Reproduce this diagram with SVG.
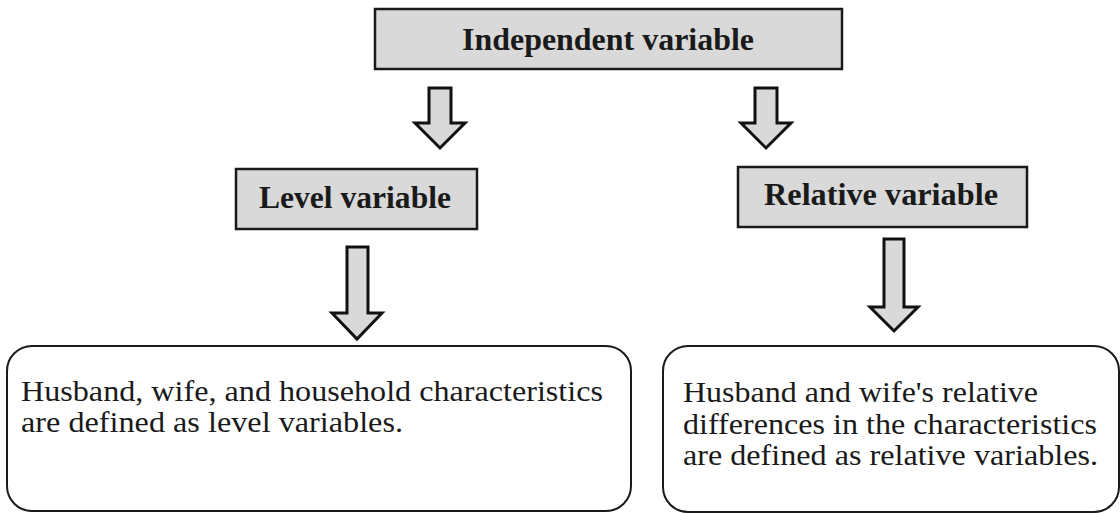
<svg xmlns="http://www.w3.org/2000/svg" width="1120" height="513" viewBox="0 0 1120 513">
  <style>
    .box { fill: #d9d9d9; stroke: #1a1a1a; stroke-width: 2.5; }
    .rbox { fill: #ffffff; stroke: #1a1a1a; stroke-width: 2; }
    .arrow { fill: #d9d9d9; stroke: #111111; stroke-width: 3; stroke-linejoin: miter; }
    .hd { font-family: "Liberation Serif", "Times New Roman", serif; font-weight: bold; font-size: 31px; fill: #1a1a1a; text-anchor: middle; }
    .bd { font-family: "Liberation Serif", "Times New Roman", serif; font-size: 29px; fill: #1a1a1a; }
  </style>
  <rect width="1120" height="513" fill="#ffffff"/>

  <g id="node-independent">
    <rect class="box" x="375" y="9" width="467" height="60"/>
    <text class="hd" x="608" y="50" textLength="292" lengthAdjust="spacingAndGlyphs">Independent variable</text>
  </g>

  <g id="node-level">
    <rect class="box" x="236" y="169" width="241" height="60"/>
    <text class="hd" x="355" y="208" textLength="192" lengthAdjust="spacingAndGlyphs">Level variable</text>
  </g>

  <g id="node-relative">
    <rect class="box" x="738" y="167" width="289" height="60"/>
    <text class="hd" x="881" y="205" textLength="234" lengthAdjust="spacingAndGlyphs">Relative variable</text>
  </g>

  <g id="node-level-desc">
    <rect class="rbox" x="7" y="346" width="624" height="165" rx="25" ry="25"/>
    <text class="bd" x="21" y="401" textLength="582" lengthAdjust="spacingAndGlyphs">Husband, wife, and household characteristics</text>
    <text class="bd" x="21" y="432" textLength="382" lengthAdjust="spacingAndGlyphs">are defined as level variables.</text>
  </g>

  <g id="node-relative-desc">
    <rect class="rbox" x="663" y="346" width="456" height="166" rx="25" ry="25"/>
    <text class="bd" x="683" y="402" textLength="355" lengthAdjust="spacingAndGlyphs">Husband and wife's relative</text>
    <text class="bd" x="683" y="434" textLength="414" lengthAdjust="spacingAndGlyphs">differences in the characteristics</text>
    <text class="bd" x="683" y="465" textLength="415" lengthAdjust="spacingAndGlyphs">are defined as relative variables.</text>
  </g>

  <g id="connectors">
    <polygon class="arrow" points="429,88 451,88 451,123 465,123 440,148 415,123 429,123"/>
    <polygon class="arrow" points="755,88 777,88 777,123 791,123 766,148 741,123 755,123"/>
    <polygon class="arrow" points="347,247 368,247 368,313 382,313 357,339 332,313 347,313"/>
    <polygon class="arrow" points="884,239 904,239 904,307 918,307 894,331 870,307 884,307"/>
  </g>
</svg>
